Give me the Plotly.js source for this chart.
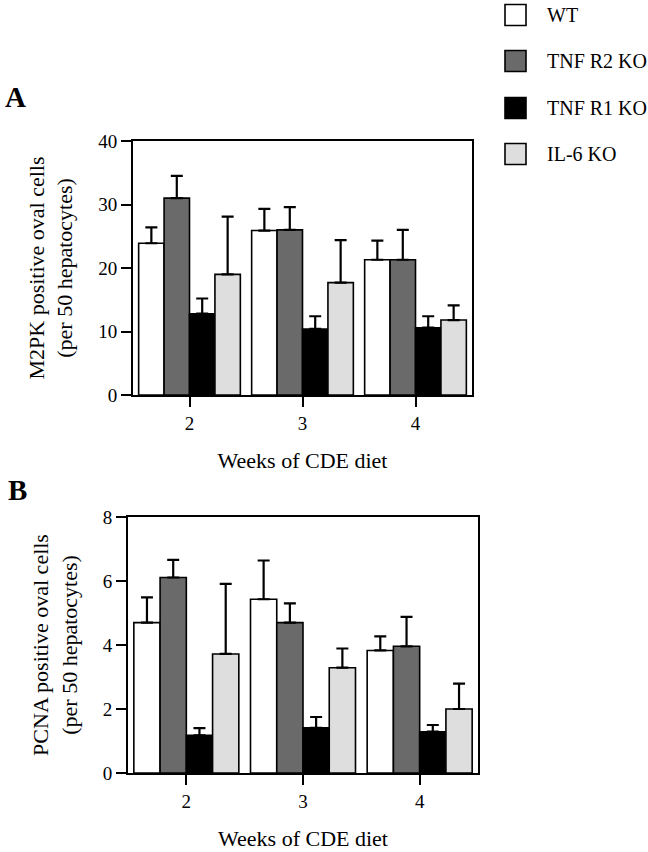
<!DOCTYPE html>
<html>
<head>
<meta charset="utf-8">
<script src="https://cdn.plot.ly/plotly-3.0.1.min.js"></script>
<style>html,body{margin:0;padding:0;background:#fff;}#chart{width:648px;height:852px;}</style>
</head>
<body>
<div id="chart"></div>
<script>
// ---- data ----
var weeks = ['2', '3', '4'];
var seriesNames = ['WT', 'TNF R2 KO', 'TNF R1 KO', 'IL-6 KO'];
var seriesColors = ['#ffffff', '#6a6a6a', '#000000', '#dedede'];

// Panel A: M2PK positive oval cells (per 50 hepatocytes)
var m2pkWT   = [23.9, 25.9, 21.3];
var m2pkR2   = [31.0, 26.0, 21.3];
var m2pkR1   = [12.8, 10.4, 10.6];
var m2pkIL6  = [19.0, 17.7, 11.8];
var m2pkErrWT  = [2.5, 3.4, 3.0];
var m2pkErrR2  = [3.5, 3.6, 4.7];
var m2pkErrR1  = [2.4, 2.0, 1.8];
var m2pkErrIL6 = [9.1, 6.7, 2.3];

// Panel B: PCNA positive oval cells (per 50 hepatocytes)
var pcnaWT   = [4.70, 5.43, 3.83];
var pcnaR2   = [6.11, 4.70, 3.96];
var pcnaR1   = [1.18, 1.41, 1.29];
var pcnaIL6  = [3.72, 3.29, 2.00];
var pcnaErrWT  = [0.79, 1.21, 0.44];
var pcnaErrR2  = [0.55, 0.60, 0.92];
var pcnaErrR1  = [0.22, 0.34, 0.21];
var pcnaErrIL6 = [2.19, 0.60, 0.79];

var aVals = [m2pkWT, m2pkR2, m2pkR1, m2pkIL6];
var aErrs = [m2pkErrWT, m2pkErrR2, m2pkErrR1, m2pkErrIL6];
var bVals = [pcnaWT, pcnaR2, pcnaR1, pcnaIL6];
var bErrs = [pcnaErrWT, pcnaErrR2, pcnaErrR1, pcnaErrIL6];

var FONT = 'Liberation Serif';
var W = 648, H = 852;
function px(x){ return x / W; }
function py(y){ return 1 - y / H; }

var traces = [];
function addPanel(vals, errs, xa, ya){
  for (var i = 0; i < seriesNames.length; i++) {
    traces.push({
      type: 'bar',
      name: seriesNames[i],
      x: weeks,
      y: vals[i],
      xaxis: xa, yaxis: ya,
      showlegend: false,
      marker: {color: seriesColors[i], line: {color: '#000', width: 1.6}},
      error_y: {type: 'data', symmetric: false, array: errs[i],
                arrayminus: errs[i].map(function(){return 0;}),
                color: '#000', thickness: 2.2, width: 6}
    });
  }
}
addPanel(aVals, aErrs, 'x', 'y');
addPanel(bVals, bErrs, 'x2', 'y2');

var axisCommon = {
  showline: true, linecolor: '#000', linewidth: 2, mirror: true,
  ticks: 'outside', ticklen: 10, tickwidth: 2, tickcolor: '#000',
  showgrid: false, zeroline: false,
  tickfont: {family: FONT, size: 19, color: '#000'}
};
function ax(extra){ return Object.assign({}, axisCommon, extra); }

var shapes = [], annotations = [];
var legCenters = [15, 61, 108, 154];
for (var i = 0; i < seriesNames.length; i++) {
  var cy = legCenters[i];
  shapes.push({type: 'rect', xref: 'paper', yref: 'paper',
    x0: px(505), x1: px(526), y0: py(cy + 10.5), y1: py(cy - 10.5),
    fillcolor: seriesColors[i], line: {color: '#000', width: 1.6}});
  annotations.push({xref: 'paper', yref: 'paper', x: px(545), y: py(cy),
    xanchor: 'left', yanchor: 'middle', showarrow: false, text: seriesNames[i],
    font: {family: FONT, size: 20, color: '#000'}});
}
annotations.push({xref: 'paper', yref: 'paper', x: px(15), y: py(97), xanchor: 'center', yanchor: 'middle',
  showarrow: false, text: '<b>A</b>', font: {family: FONT, size: 29, color: '#000'}});
annotations.push({xref: 'paper', yref: 'paper', x: px(17), y: py(490), xanchor: 'center', yanchor: 'middle',
  showarrow: false, text: '<b>B</b>', font: {family: FONT, size: 29, color: '#000'}});

var layout = {
  width: W, height: H,
  margin: {l: 0, r: 0, t: 0, b: 0},
  paper_bgcolor: '#fff', plot_bgcolor: '#fff',
  font: {family: FONT, color: '#000'},
  barmode: 'group', bargap: 0.1, bargroupgap: 0,
  showlegend: false,
  xaxis: ax({domain: [px(133), px(472)], anchor: 'y', type: 'category',
    title: {text: 'Weeks of CDE diet', font: {family: FONT, size: 22, color: '#000'}, standoff: 20}}),
  yaxis: ax({domain: [py(395), py(141)], anchor: 'x', range: [0, 40], dtick: 10,
    title: {text: 'M2PK positive oval cells<br>(per 50 hepatocytes)', font: {family: FONT, size: 22, color: '#000'}, standoff: 19}}),
  xaxis2: ax({domain: [px(128), px(478)], anchor: 'y2', type: 'category',
    title: {text: 'Weeks of CDE diet', font: {family: FONT, size: 22, color: '#000'}, standoff: 20}}),
  yaxis2: ax({domain: [py(773), py(517)], anchor: 'x2', range: [0, 8], dtick: 2,
    title: {text: 'PCNA positive oval cells<br>(per 50 hepatocytes)', font: {family: FONT, size: 22, color: '#000'}, standoff: 19}}),
  shapes: shapes,
  annotations: annotations
};

Plotly.newPlot('chart', traces, layout, {displayModeBar: false, staticPlot: true});
</script>
</body>
</html>
